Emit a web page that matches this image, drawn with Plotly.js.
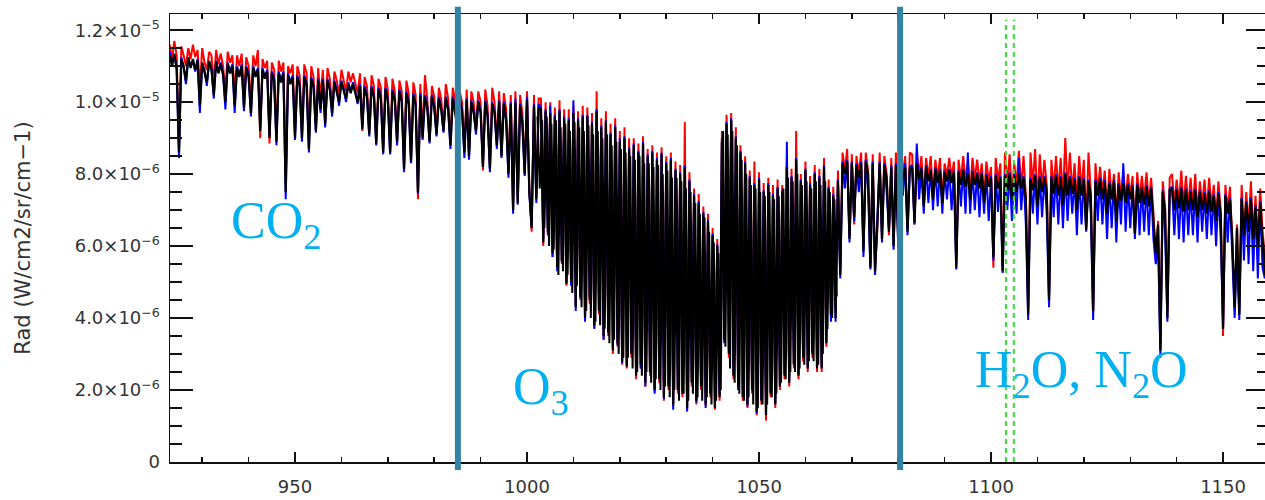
<!DOCTYPE html>
<html>
<head>
<meta charset="utf-8">
<script src="https://cdn.plot.ly/plotly-3.0.1.min.js"></script>
<style>
html,body{margin:0;padding:0;background:#fff;overflow:hidden;}
#chart{width:1280px;height:500px;}
</style>
</head>
<body>
<div id="chart"></div>
<script>
// Wavenumber sampling grid (cm-1)
const wavenumberStart = 923.0;
const wavenumberStep = 0.5;

// Radiance in units of 1e-6 W/cm2/sr/cm-1, one value per grid point (923.0 ... 1160.0)
const radRed = [
11.6,11.2,11.7,11.3,8.7,11.55,11.3,11.0,11.5,11.2,11.6,11.25,11.45,10.4,11.5,11.1,10.9,11.4,11.3,10.5,
11.45,11.05,11.35,11.0,10.3,11.4,11.1,11.3,10.2,11.3,11.0,11.35,10.2,11.25,11.0,10.0,11.3,11.0,11.45,9.0,
11.2,10.95,11.15,8.85,11.1,10.9,9.1,11.15,10.85,11.1,7.8,11.0,10.8,11.05,9.2,11.0,10.75,9.2,11.05,10.8,
8.9,11.0,10.7,9.4,10.95,10.1,10.9,9.6,10.95,10.65,9.9,10.85,10.6,10.2,10.9,10.6,10.3,10.85,10.55,10.8,
10.55,10.25,10.8,9.2,10.7,10.45,9.3,10.75,10.45,8.95,10.65,10.4,8.75,10.7,10.35,8.7,10.65,10.3,9.0,10.6,
10.3,8.2,10.6,10.25,8.45,10.55,10.2,7.3,10.5,9.1,10.75,10.1,9.0,10.45,10.15,9.2,10.4,10.1,9.3,10.5,
10.1,8.9,10.4,10.05,9.2,10.3,10.0,8.7,10.35,8.6,10.3,10.0,9.3,10.3,10.0,8.1,10.35,9.9,8.3,10.4,
10.0,8.9,10.3,8.6,10.25,9.8,8.1,10.2,7.1,10.3,7.3,10.2,9.7,8.1,10.3,7.6,6.4,10.2,7.4,10.1,
10.1,6.0,10.0,6.3,10.0,5.7,9.85,5.45,10.05,5.5,9.8,4.9,9.8,5.05,9.9,4.35,9.75,4.5,9.9,4.05,
9.85,4.4,9.7,3.7,10.3,4.1,9.55,3.4,9.75,3.5,9.4,3.0,9.55,3.2,9.2,2.7,9.3,2.6,9.0,2.9,
9.0,2.3,8.85,2.6,9.05,2.1,8.7,2.4,8.8,1.95,8.6,2.2,8.75,1.7,8.5,2.0,8.6,1.55,8.35,1.9,
8.25,1.8,9.45,1.45,8.05,2.1,7.6,1.6,7.45,2.0,7.1,1.55,6.9,1.8,6.5,1.45,6.2,1.7,9.2,3.5,
9.65,2.9,9.7,2.3,9.3,2.0,8.8,1.7,8.5,1.5,8.1,1.9,8.35,1.3,8.05,1.6,7.75,1.15,7.9,1.8,
7.7,1.5,7.85,2.0,7.7,2.3,8.45,2.1,8.15,2.6,9.2,2.3,8.0,2.8,8.35,2.5,7.95,2.9,8.25,2.5,
8.15,2.5,8.45,3.2,7.85,4.0,7.65,4.2,8.1,5.3,8.6,8.1,8.7,6.3,8.55,6.6,8.5,8.0,8.6,6.0,
8.6,8.1,5.5,8.55,5.4,6.5,8.6,6.3,8.5,8.0,6.3,8.45,6.1,8.6,6.2,8.7,8.0,8.5,6.5,8.6,
8.55,6.6,8.6,8.0,8.5,7.3,8.45,7.9,8.5,7.4,8.4,7.9,8.45,7.35,8.3,7.95,8.45,7.9,8.35,5.5,
8.4,7.85,8.5,7.8,8.35,7.5,8.45,7.85,8.4,7.8,8.3,7.4,8.35,7.8,8.2,5.4,8.45,7.8,8.3,5.45,
8.6,7.7,8.55,7.45,8.3,7.7,8.65,7.6,8.5,7.4,4.3,8.6,7.7,8.7,7.2,8.55,7.6,8.4,7.7,4.6,
8.4,7.6,8.5,7.5,8.45,7.3,9.0,7.55,8.6,7.5,8.3,7.2,8.5,7.5,8.4,6.55,8.6,7.5,4.1,8.3,
7.5,8.2,7.45,8.1,7.0,8.15,7.4,8.0,6.8,8.05,7.35,8.1,7.3,8.0,7.4,7.95,6.4,8.05,7.3,7.95,
7.3,8.05,7.2,7.9,6.9,5.6,6.7,3.3,7.8,7.1,4.2,7.9,8.0,7.15,7.85,7.2,8.1,7.1,7.95,7.1,
7.9,7.1,8.0,6.9,7.8,7.15,7.85,7.0,7.9,7.1,7.7,6.8,7.8,7.0,3.5,7.7,7.0,7.65,6.0,4.2,
6.6,4.2,7.7,6.4,7.5,6.5,7.8,6.3,7.4,6.1,7.6,6.4,5.3,7.5,6.9
];

const radBlue = [
11.4,11.1,11.3,10.95,8.45,11.25,10.95,10.5,11.2,11.0,11.15,10.85,11.2,9.7,11.05,10.9,10.45,11.1,10.95,10.1,
11.15,10.85,11.1,10.8,9.8,11.1,10.85,11.05,9.7,11.0,10.75,11.05,9.75,11.0,10.75,9.6,11.0,10.75,10.95,9.3,
10.95,10.7,10.9,9.1,10.85,10.65,8.8,10.85,10.6,10.85,7.3,10.8,10.55,10.75,8.95,10.75,10.5,8.9,10.75,10.5,
8.6,10.7,10.45,9.15,10.65,9.7,10.65,9.3,10.65,10.4,9.6,10.6,10.35,9.9,10.6,10.35,10.0,10.55,10.3,10.55,
10.3,9.95,10.5,9.35,10.45,10.2,9.05,10.45,10.2,8.8,10.4,10.15,8.55,10.4,10.1,8.55,10.35,10.1,8.8,10.35,
10.05,8.05,10.3,10.0,8.3,10.25,9.95,7.45,10.25,8.95,10.2,9.9,8.85,10.2,9.9,9.05,10.15,9.85,9.15,10.15,
9.85,8.7,10.15,9.8,9.25,10.1,9.8,8.45,10.1,8.4,10.05,9.75,9.1,10.05,9.75,8.25,10.05,9.65,8.05,10.0,
9.75,8.7,10.05,8.45,10.0,9.55,7.9,10.0,6.9,10.1,7.15,9.95,9.45,7.95,10.15,7.45,6.55,9.95,7.2,9.95,
9.85,6.2,9.8,6.3,9.9,5.7,9.65,5.3,9.8,5.55,9.6,5.0,9.55,4.9,10.05,4.2,9.55,4.55,9.65,3.9,
9.65,4.6,9.45,3.7,9.8,4.25,9.35,3.4,9.5,3.65,9.15,3.2,9.35,3.25,9.0,2.75,9.05,2.7,8.75,3.05,
8.85,2.5,8.65,2.6,8.9,2.1,8.55,2.55,8.65,1.9,8.45,2.35,8.6,1.75,8.35,2.15,8.45,1.45,8.15,2.05,
8.05,1.95,8.25,1.4,7.85,2.25,7.45,1.65,7.25,2.15,6.95,1.5,6.75,1.95,6.35,1.55,6.05,1.85,9.0,3.3,
9.45,3.1,9.55,2.45,9.05,2.0,8.65,1.85,8.35,1.55,7.95,2.05,7.75,1.35,7.9,1.75,7.55,1.4,7.75,1.95,
7.45,1.65,7.65,2.15,7.55,2.45,8.9,2.25,7.95,2.75,8.45,2.45,7.85,2.95,8.15,2.65,7.75,3.05,8.05,2.65,
7.95,2.65,8.25,3.35,7.65,3.9,7.45,3.9,7.85,5.1,8.35,7.6,8.4,6.1,8.35,6.7,8.3,7.5,8.35,5.7,
8.4,7.6,5.35,8.35,5.2,6.7,8.35,6.1,8.3,7.5,6.45,8.25,5.9,8.3,5.95,8.25,7.4,8.3,6.3,8.2,
8.25,6.6,8.85,7.3,8.2,6.9,8.25,7.2,8.15,7.0,8.2,7.1,8.15,6.9,8.1,7.3,8.15,7.0,8.1,5.35,
8.1,7.1,8.15,6.9,8.6,6.9,8.1,7.0,8.05,6.8,8.05,6.9,8.0,6.7,7.95,5.6,8.0,6.95,7.95,5.25,
8.0,7.0,8.05,6.7,8.0,6.9,8.45,7.0,7.95,6.6,3.95,7.9,6.9,8.0,6.6,7.95,6.8,7.95,6.9,4.3,
7.95,6.8,8.0,6.6,7.95,6.5,8.05,6.7,7.95,6.9,7.9,6.3,7.95,6.6,7.9,6.4,7.85,6.9,3.95,7.85,
6.7,7.9,6.6,7.85,6.2,7.8,6.5,7.85,6.1,7.75,6.6,8.3,6.4,7.75,6.5,7.7,6.2,7.75,6.3,7.65,
6.4,7.7,6.3,7.65,6.2,5.5,6.1,2.9,7.55,6.4,3.9,7.6,7.65,6.3,7.6,6.2,7.65,6.1,7.6,6.3,
7.55,6.3,7.6,6.1,7.55,6.4,7.5,6.2,7.55,6.3,7.45,6.0,7.5,6.2,3.8,7.45,6.1,7.35,5.9,4.0,
5.9,3.95,7.35,5.6,7.25,5.5,7.35,5.3,7.15,5.1,7.25,5.4,5.1,7.15,5.8
];

const radBlack = [
11.3,11.0,11.35,10.9,8.6,11.2,11.0,10.6,11.25,10.95,11.2,10.9,11.15,9.9,11.1,10.85,10.55,11.15,10.9,10.2,
11.1,10.8,11.05,10.75,10.0,11.05,10.8,11.0,9.9,10.95,10.7,11.0,9.85,10.95,10.7,9.7,10.95,10.7,10.9,9.2,
10.9,10.65,10.85,9.0,10.8,10.6,8.9,10.8,10.55,10.8,7.5,10.75,10.5,10.7,9.0,10.7,10.45,9.0,10.7,10.45,
8.7,10.65,10.4,9.2,10.6,9.8,10.6,9.4,10.6,10.35,9.7,10.55,10.3,10.0,10.55,10.3,10.1,10.5,10.25,10.5,
10.25,10.0,10.45,9.25,10.4,10.15,9.1,10.4,10.15,8.85,10.35,10.1,8.6,10.35,10.05,8.6,10.3,10.05,8.9,10.3,
10.0,8.15,10.25,9.95,8.35,10.2,9.9,7.5,10.2,9.0,10.15,9.85,8.9,10.15,9.85,9.1,10.1,9.8,9.2,10.1,
9.8,8.8,10.1,9.75,9.3,10.05,9.75,8.6,10.05,8.5,10.0,9.7,9.2,10.0,9.7,8.2,10.0,9.6,8.15,9.95,
9.7,8.8,10.0,8.5,9.95,9.5,8.0,9.95,7.0,10.0,7.2,9.9,9.4,8.0,10.05,7.5,6.5,9.9,7.3,9.85,
9.8,6.1,9.75,6.4,9.7,5.8,9.6,5.4,9.75,5.6,9.55,4.95,9.5,5.0,9.7,4.3,9.5,4.6,9.6,4.0,
9.6,4.5,9.4,3.8,9.75,4.2,9.3,3.5,9.45,3.6,9.1,3.1,9.3,3.3,8.9,2.8,9.0,2.65,8.7,3.0,
8.8,2.4,8.6,2.7,8.85,2.2,8.5,2.5,8.6,2.0,8.4,2.3,8.55,1.8,8.3,2.1,8.4,1.6,8.1,2.0,
8.0,1.9,8.2,1.5,7.8,2.2,7.4,1.7,7.2,2.1,6.9,1.6,6.7,1.9,6.3,1.5,6.0,1.8,8.9,3.4,
9.4,3.0,9.5,2.4,9.0,2.1,8.6,1.8,8.3,1.6,7.9,2.0,7.7,1.4,7.85,1.7,7.5,1.3,7.7,1.9,
7.4,1.6,7.6,2.1,7.5,2.4,8.2,2.2,7.9,2.7,8.4,2.4,7.8,2.9,8.1,2.6,7.7,3.0,8.0,2.6,
7.9,2.6,8.2,3.3,7.6,4.1,7.4,4.0,7.8,5.2,8.3,8.0,8.35,6.2,8.3,6.8,8.25,7.9,8.3,5.85,
8.35,8.0,5.4,8.3,5.3,6.6,8.3,6.2,8.25,7.9,6.4,8.2,6.0,8.25,6.1,8.2,7.85,8.2,6.4,8.15,
8.2,6.65,8.3,7.85,8.15,7.1,8.2,7.8,8.1,7.3,8.15,7.75,8.1,7.2,8.05,7.8,8.1,7.75,8.05,5.4,
8.05,7.7,8.1,7.65,8.0,7.3,8.05,7.7,8.0,7.6,8.0,7.2,7.95,7.65,7.9,5.7,7.95,7.6,7.9,5.3,
7.95,7.55,8.0,7.3,7.95,7.5,8.0,7.6,7.9,7.3,4.1,7.85,7.55,7.95,7.1,7.9,7.5,7.9,7.55,4.5,
7.9,7.45,7.95,7.4,7.9,7.15,8.0,7.4,7.9,7.45,7.85,7.0,7.9,7.4,7.85,6.45,7.8,7.4,4.2,7.8,
7.4,7.85,7.3,7.8,6.9,7.75,7.3,7.8,6.7,7.7,7.25,7.75,7.2,7.7,7.3,7.65,6.35,7.7,7.2,7.6,
7.15,7.65,7.1,7.6,6.8,5.8,6.6,3.1,7.5,7.0,4.0,7.55,7.6,7.0,7.55,7.05,7.6,6.95,7.55,7.0,
7.5,7.0,7.55,6.8,7.5,7.0,7.45,6.9,7.5,6.95,7.4,6.7,7.45,6.9,3.7,7.4,6.9,7.3,6.2,4.3,
6.5,4.1,7.3,6.3,7.2,6.4,7.3,6.2,7.1,6.0,7.2,6.3,5.2,7.1,6.6
];

// Extra black samples inside the O3 band, between the main grid points (1002.25 ... 1066.75)
const bandFineStart = 1002.25;
const radBlackBandFine = [
9.6,7.6,9.5,6.5,9.6,6.0,9.4,5.9,9.5,5.2,9.3,5.3,9.4,5.2,9.2,4.7,9.45,4.9,9.3,4.3,
9.2,4.2,9.35,4.0,9.1,3.9,9.2,3.8,9.0,3.7,9.1,3.3,8.8,3.4,8.9,3.0,8.7,2.9,8.6,2.9,
8.5,2.6,8.4,2.5,8.5,2.4,8.3,2.5,8.3,2.2,8.2,2.3,8.25,2.0,8.0,2.1,8.1,1.8,7.9,2.0,
7.9,1.7,7.8,1.9,7.6,1.7,7.5,1.9,7.2,1.8,6.9,1.7,6.8,1.8,6.4,1.6,6.1,1.7,5.8,2.0,
9.2,3.2,9.1,2.6,9.2,2.2,8.8,1.9,8.4,1.7,8.0,1.8,7.7,1.6,7.6,1.5,7.5,1.6,7.4,1.6,
7.5,1.8,7.3,1.9,7.4,2.2,7.6,2.3,7.9,2.5,7.8,2.5,8.0,2.6,7.7,2.7,7.8,2.8,7.6,2.8,
7.8,2.7,7.7,3.0,7.8,3.7,7.5,4.0,7.3,4.6
];

// Axis ticks
const xTickVals = [950, 1000, 1050, 1100, 1150];
const xTickText = ['950', '1000', '1050', '1100', '1150'];
const yTickVals = [0, 2, 4, 6, 8, 10, 12];
const yTickText = ['0', '2.0×10<sup>−6</sup>', '4.0×10<sup>−6</sup>', '6.0×10<sup>−6</sup>',
                   '8.0×10<sup>−6</sup>', '1.0×10<sup>−5</sup>', '1.2×10<sup>−5</sup>'];

// Markers: ozone band edges (solid) and H2O/N2O window lines (dashed)
const bandEdges = [985.1, 1080.4];
const windowLines = [1103.2, 1104.9];

// Gas labels
const gasLabels = ['CO<sub>2</sub>', 'O<sub>3</sub>', 'H<sub>2</sub>O, N<sub>2</sub>O'];
const gasLabelX = [945.9, 1003.0, 1119.4];
const gasLabelY = [6.6, 2.0, 2.45];

function grid(start, n) {
  const xs = [];
  for (let i = 0; i < n; i++) xs.push(+(start + i * wavenumberStep).toFixed(2));
  return xs;
}

const traces = [
  {x: grid(wavenumberStart, radRed.length), y: radRed, type: 'scatter', mode: 'lines', line: {color: '#ff0000', width: 2}, name: 'red'},
  {x: grid(wavenumberStart, radBlue.length), y: radBlue, type: 'scatter', mode: 'lines', line: {color: '#0000ff', width: 2}, name: 'blue'},
  {x: grid(bandFineStart, radBlackBandFine.length), y: radBlackBandFine, type: 'scatter', mode: 'lines', line: {color: '#000000', width: 2}, name: 'black (band samples)'},
  {x: grid(wavenumberStart, radBlack.length), y: radBlack, type: 'scatter', mode: 'lines', line: {color: '#000000', width: 2.2}, name: 'black'}
];

const shapes = [];
bandEdges.forEach(v => shapes.push({type: 'line', xref: 'x', yref: 'paper', x0: v, x1: v, y0: -0.018, y1: 1.016,
  line: {color: '#3383a6', width: 6}, layer: 'above'}));
windowLines.forEach(v => shapes.push({type: 'line', xref: 'x', yref: 'paper', x0: v, x1: v, y0: 0, y1: 0.987,
  line: {color: '#33e033', width: 2, dash: '5px,4px'}, layer: 'above'}));

const annotations = gasLabels.map((t, i) => ({
  text: t, x: gasLabelX[i], y: gasLabelY[i], xref: 'x', yref: 'y', showarrow: false,
  xanchor: 'center', yanchor: 'middle',
  font: {family: 'Liberation Serif, Times New Roman, serif', size: 52, color: '#00b0f0'}
}));

const axisCommon = {
  showline: true, linecolor: '#111', linewidth: 1.5, mirror: 'ticks',
  ticks: 'inside', tickcolor: '#111', tickwidth: 1.5,
  showgrid: false, zeroline: false
};

const layout = {
  width: 1280, height: 500,
  margin: {l: 170, r: 11, t: 14, b: 38},
  paper_bgcolor: '#ffffff', plot_bgcolor: '#ffffff',
  showlegend: false,
  xaxis: Object.assign({}, axisCommon, {
    range: [923.06, 1159.9], tickmode: 'array', tickvals: xTickVals, ticktext: xTickText,
    ticklen: 10, ticklabelstandoff: 8,
    tickfont: {family: 'DejaVu Sans, sans-serif', size: 18, color: '#333'},
    minor: {dtick: 10, tick0: 0, ticks: 'inside', ticklen: 5, tickwidth: 1.5, tickcolor: '#111', showgrid: false}
  }),
  yaxis: Object.assign({}, axisCommon, {
    range: [0, 12.45], tickmode: 'array', tickvals: yTickVals, ticktext: yTickText,
    ticklen: 23, ticklabelstandoff: 5,
    tickfont: {family: 'DejaVu Sans, sans-serif', size: 18, color: '#333'},
    minor: {dtick: 0.5, tick0: 0, ticks: 'inside', ticklen: 12, tickwidth: 1.5, tickcolor: '#111', showgrid: false},
    title: {text: 'Rad (W/cm2/sr/cm−1)', standoff: 38, font: {family: 'DejaVu Sans, sans-serif', size: 21, color: '#333'}}
  }),
  shapes: shapes,
  annotations: annotations
};

Plotly.newPlot('chart', traces, layout, {displayModeBar: false, staticPlot: true});
</script>
</body>
</html>
